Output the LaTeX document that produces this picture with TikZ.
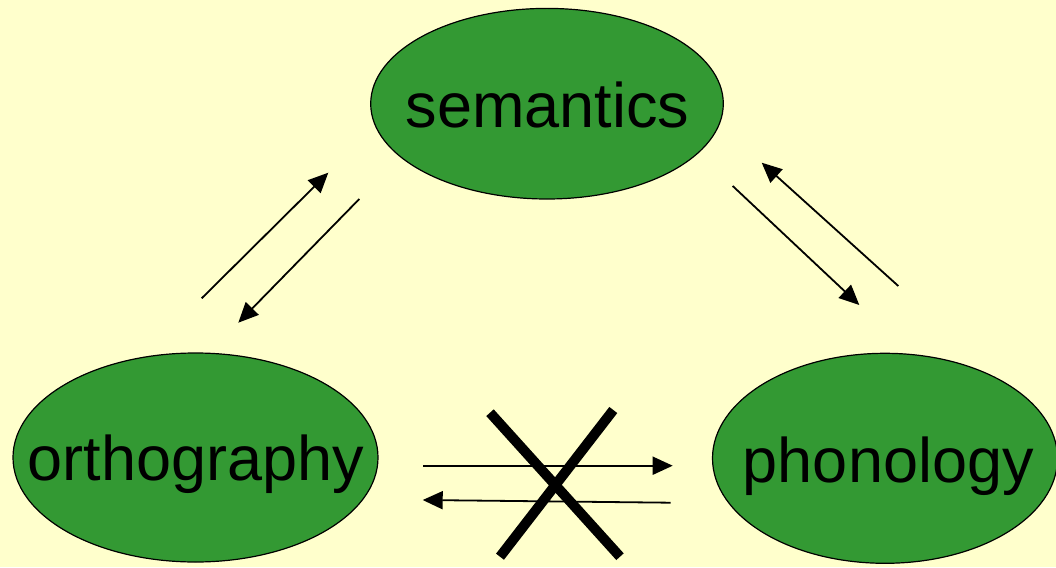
\documentclass[tikz,border=0pt]{standalone}
\usepackage{fontspec}
\setmainfont{Liberation Sans}
\usetikzlibrary{arrows.meta,shapes.geometric}
\definecolor{bgyellow}{HTML}{FFFFCC}
\definecolor{leafgreen}{HTML}{339933}
\tikzset{
  blob/.style={ellipse, draw=black, line width=1.2pt, fill=leafgreen, inner sep=0pt},
  word/.style={anchor=base, inner sep=0pt, font=\fontsize{63}{75}\selectfont},
  link/.style={line width=1.8pt, -{Triangle[length=20pt,width=18pt]}},
  cross/.style={line width=10pt, line cap=butt}
}
\begin{document}
\begin{tikzpicture}[x=1pt,y=-1pt]
\fill[bgyellow] (0,0) rectangle (1056,567);
\useasboundingbox (0,0) rectangle (1056,567);
% ellipses
\node[blob, minimum width=352.6pt, minimum height=190.6pt] (sem) at (547,103.7) {};
\node[blob, minimum width=365pt, minimum height=209pt] (orth) at (195.5,457.5) {};
\node[blob, minimum width=345pt, minimum height=210pt] (phon) at (885,458.3) {};
% labels
\node[word] (semt) at (547.3,127.7) {semantics};
\node[word] (ortht) at (195.8,480) {orthography};
\node[word] (phont) at (888.3,482.7) {phonology};
% arrow endpoints
\coordinate (os1) at (201.7,298.3);
\coordinate (os2) at (328.3,172.7);
\coordinate (so1) at (359.3,199);
\coordinate (so2) at (238.3,322.7);
\coordinate (sp1) at (732.7,186);
\coordinate (sp2) at (859.3,305);
\coordinate (ps1) at (898.3,286);
\coordinate (ps2) at (761.7,162.7);
\coordinate (op1) at (423.3,465.7);
\coordinate (op2) at (672.7,465.7);
\coordinate (po1) at (670.7,502.7);
\coordinate (po2) at (422.7,500);
\draw[link] (os1) -- (os2);
\draw[link] (so1) -- (so2);
\draw[link] (sp1) -- (sp2);
\draw[link] (ps1) -- (ps2);
\draw[link] (op1) -- (op2);
\draw[link] (po1) -- (po2);
% cross
\coordinate (xa1) at (490,412.7);
\coordinate (xa2) at (620,556.7);
\coordinate (xb1) at (613.3,410);
\coordinate (xb2) at (500,556.7);
\draw[cross] (xa1) -- (xa2);
\draw[cross] (xb1) -- (xb2);
\end{tikzpicture}
\end{document}
